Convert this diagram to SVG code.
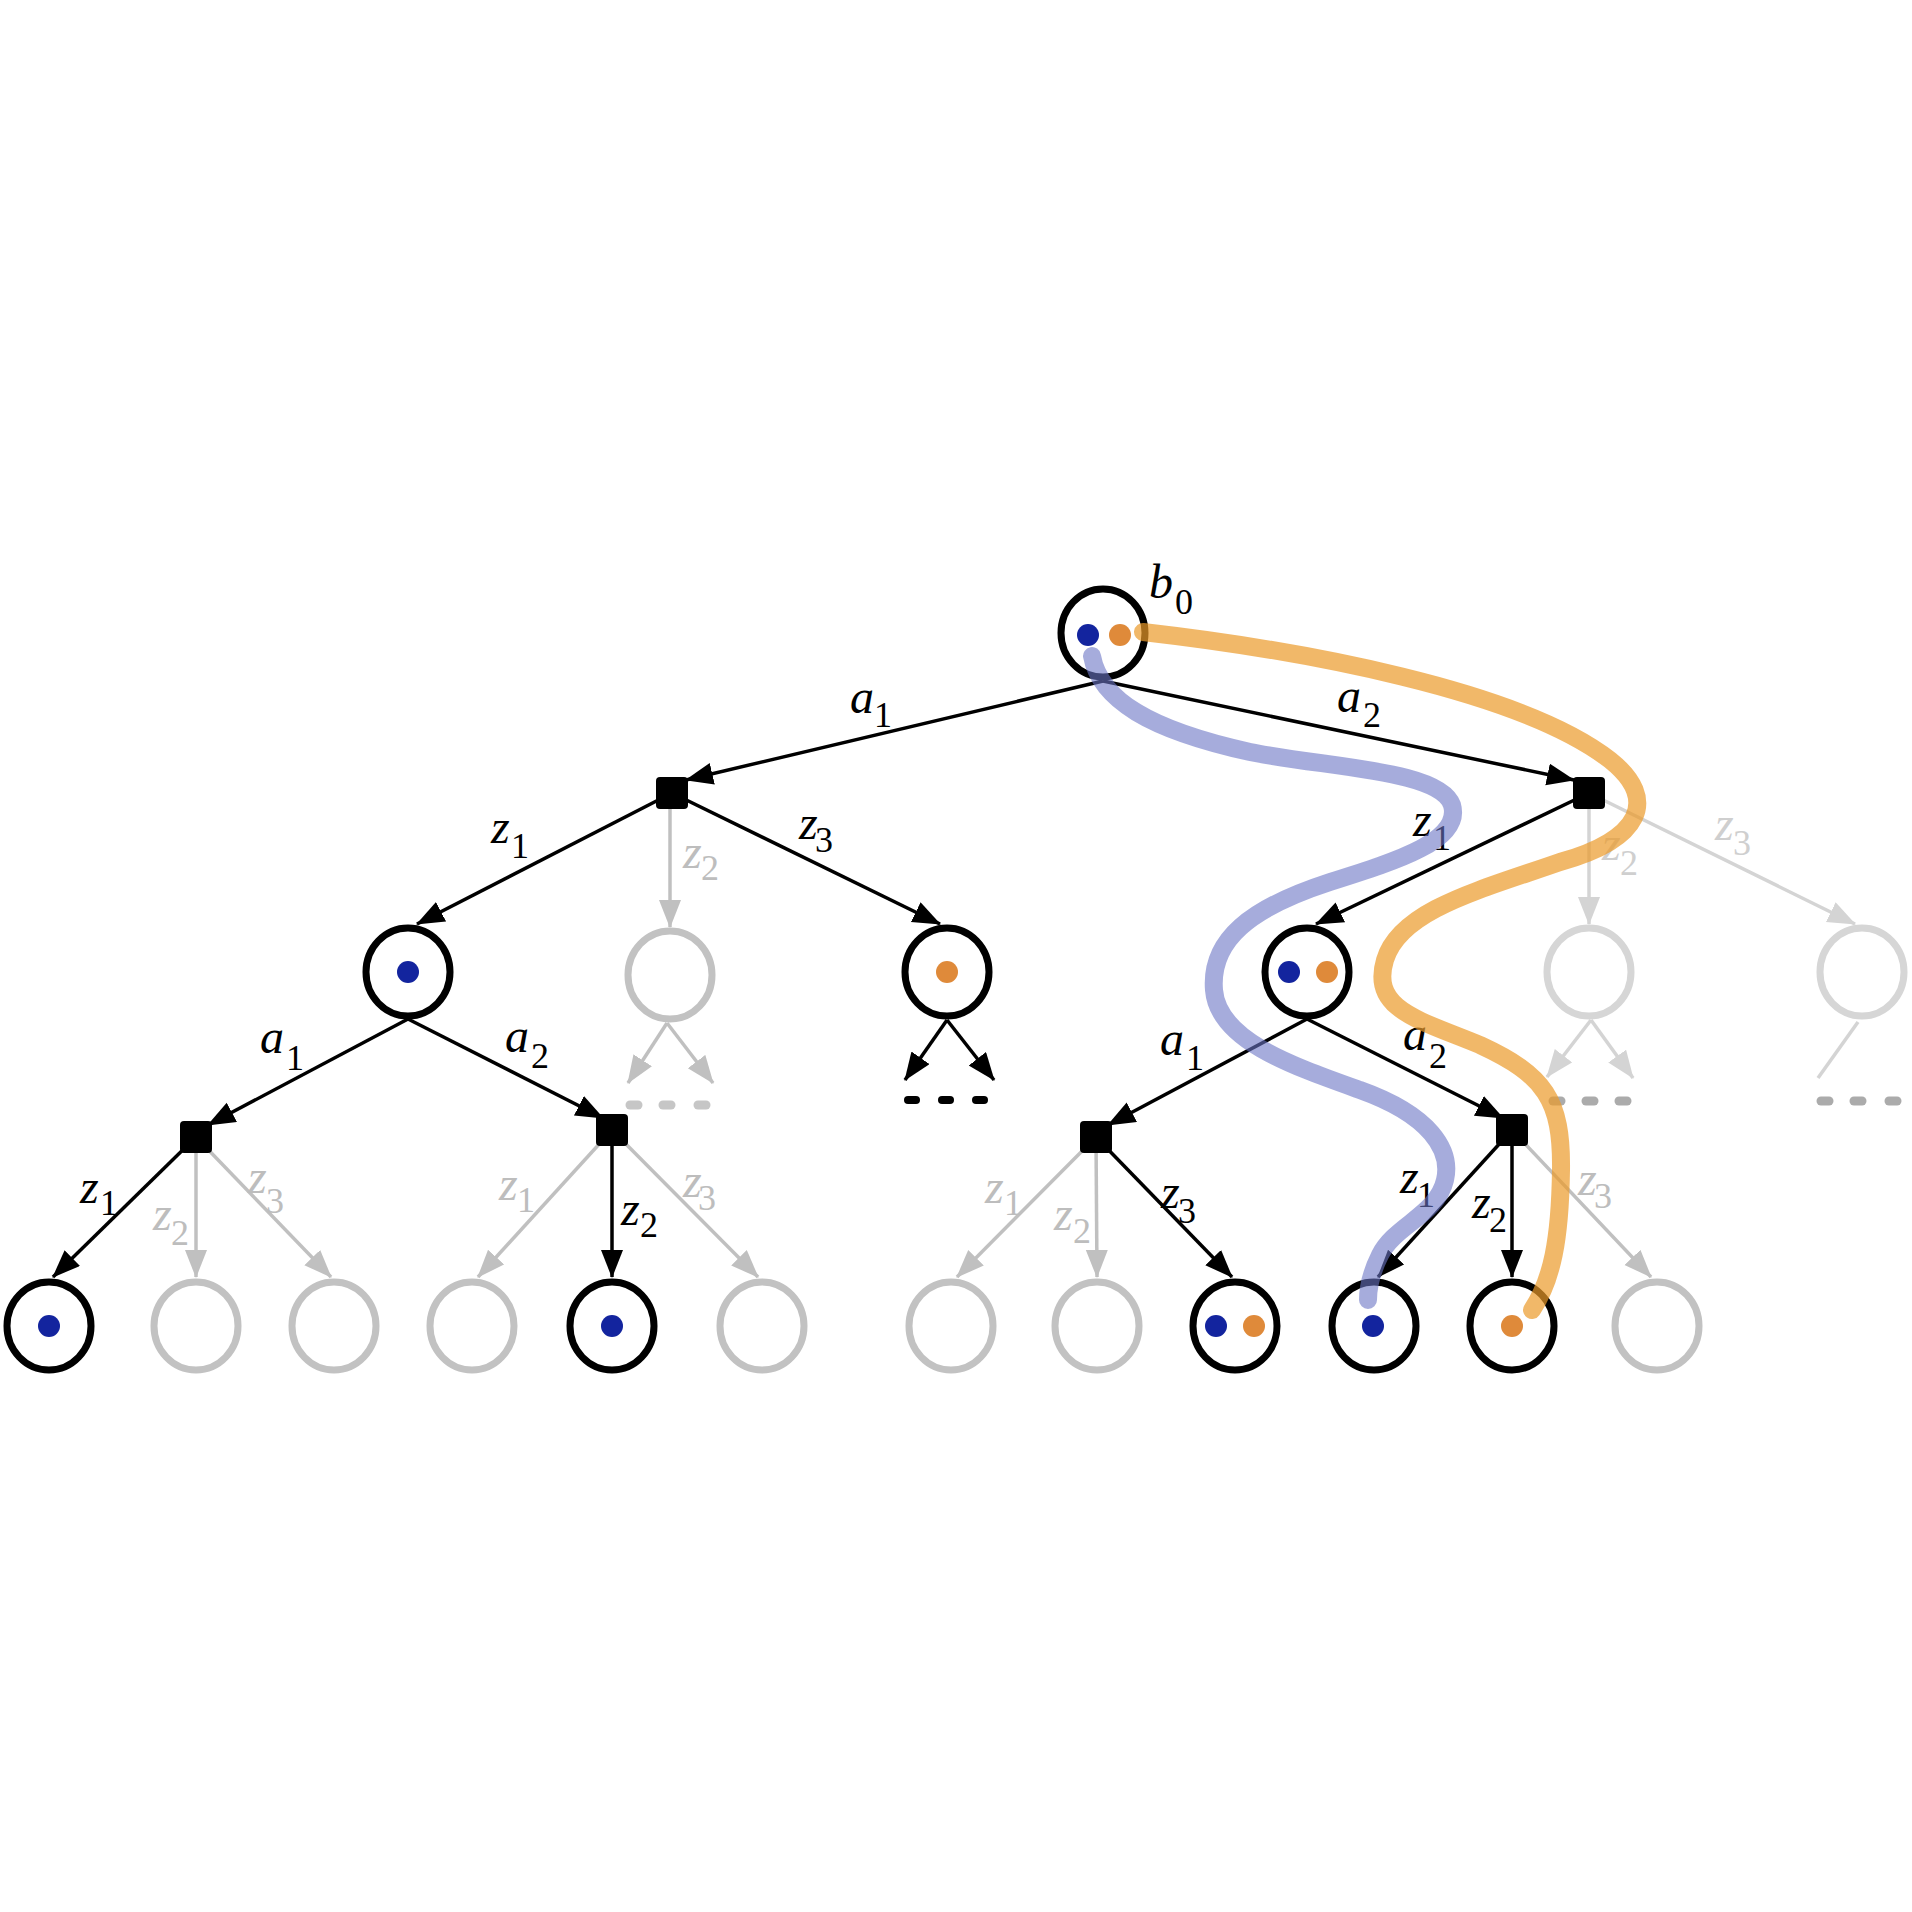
<svg xmlns="http://www.w3.org/2000/svg" width="1912" height="1912" viewBox="0 0 1912 1912">
<defs>
<style>
.e line{stroke-width:3.5;fill:none}
.k{stroke:#000}
.g{stroke:#c0c0c0}
.l{stroke:#d4d4d4}
.nk{fill:#fff;stroke:#000;stroke-width:7}
.ng{fill:#fff;stroke:#c2c2c2;stroke-width:7}
.nl{fill:#fff;stroke:#d6d6d6;stroke-width:7}
.sq{fill:#000}
.lab{font-family:"Liberation Serif","Times New Roman",serif;font-style:italic;font-size:48px;fill:#000}
.lab.gt{fill:#bdbdbd}
.lab.lt{fill:#cfcfcf}
.sub{font-style:normal;font-size:36px}
.bl{fill:#13249e}
.or{fill:#df8a3a}
.dk{stroke:#000;stroke-width:8;stroke-linecap:round}
.dg{stroke:#c6c6c6;stroke-width:9;stroke-linecap:round}
.dl{stroke:#ababab;stroke-width:9;stroke-linecap:round}
.hl{fill:none;stroke-width:18;stroke-linecap:round;stroke-linejoin:round}
</style>
<marker id="ak" markerUnits="userSpaceOnUse" markerWidth="30" markerHeight="24" refX="27" refY="11" orient="auto"><path d="M0,0 L28,11 L0,22 Z" fill="#000"/></marker>
<marker id="ag" markerUnits="userSpaceOnUse" markerWidth="30" markerHeight="24" refX="27" refY="11" orient="auto"><path d="M0,0 L28,11 L0,22 Z" fill="#c0c0c0"/></marker>
<marker id="al" markerUnits="userSpaceOnUse" markerWidth="30" markerHeight="24" refX="27" refY="11" orient="auto"><path d="M0,0 L28,11 L0,22 Z" fill="#d4d4d4"/></marker>
</defs>
<rect width="1912" height="1912" fill="#fff"/>

<g id="connectors" class="e">
<line class="k" x1="1103" y1="681" x2="686" y2="780" marker-end="url(#ak)"/>
<line class="k" x1="1103" y1="681" x2="1574" y2="780" marker-end="url(#ak)"/>
<line class="k" x1="672" y1="793" x2="417" y2="924" marker-end="url(#ak)"/>
<line class="g" x1="670" y1="793" x2="670" y2="927" marker-end="url(#ag)"/>
<line class="k" x1="672" y1="793" x2="940" y2="924" marker-end="url(#ak)"/>
<line class="k" x1="1589" y1="793" x2="1316" y2="924" marker-end="url(#ak)"/>
<line class="l" x1="1589" y1="793" x2="1589" y2="924" marker-end="url(#al)"/>
<line class="l" x1="1589" y1="793" x2="1855" y2="924" marker-end="url(#al)"/>
<line class="k" x1="408" y1="1019" x2="208" y2="1125" marker-end="url(#ak)"/>
<line class="k" x1="408" y1="1019" x2="603" y2="1118" marker-end="url(#ak)"/>
<line class="k" x1="1307" y1="1019" x2="1108" y2="1125" marker-end="url(#ak)"/>
<line class="k" x1="1307" y1="1019" x2="1503" y2="1118" marker-end="url(#ak)"/>
<line class="g" x1="667" y1="1023" x2="628" y2="1083" marker-end="url(#ag)"/>
<line class="g" x1="667" y1="1023" x2="713" y2="1083" marker-end="url(#ag)"/>
<line class="k" x1="947" y1="1020" x2="905" y2="1080" marker-end="url(#ak)"/>
<line class="k" x1="947" y1="1020" x2="994" y2="1080" marker-end="url(#ak)"/>
<line class="l" x1="1591" y1="1020" x2="1547" y2="1077" marker-end="url(#al)"/>
<line class="l" x1="1591" y1="1020" x2="1633" y2="1078" marker-end="url(#al)"/>
<line class="l" x1="1858" y1="1022" x2="1818" y2="1078"/>
<line class="k" x1="196" y1="1137" x2="53" y2="1277" marker-end="url(#ak)"/>
<line class="g" x1="196" y1="1137" x2="196" y2="1277" marker-end="url(#ag)"/>
<line class="g" x1="196" y1="1137" x2="331" y2="1277" marker-end="url(#ag)"/>
<line class="g" x1="612" y1="1130" x2="478" y2="1277" marker-end="url(#ag)"/>
<line class="k" x1="612" y1="1130" x2="612" y2="1277" marker-end="url(#ak)"/>
<line class="g" x1="612" y1="1130" x2="758" y2="1277" marker-end="url(#ag)"/>
<line class="g" x1="1096" y1="1137" x2="957" y2="1277" marker-end="url(#ag)"/>
<line class="g" x1="1096" y1="1137" x2="1097" y2="1277" marker-end="url(#ag)"/>
<line class="k" x1="1096" y1="1137" x2="1232" y2="1277" marker-end="url(#ak)"/>
<line class="k" x1="1512" y1="1130" x2="1378" y2="1277" marker-end="url(#ak)"/>
<line class="k" x1="1512" y1="1130" x2="1512" y2="1277" marker-end="url(#ak)"/>
<line class="g" x1="1512" y1="1130" x2="1651" y2="1277" marker-end="url(#ag)"/>
</g>

<g id="ellipses">
<line class="dg" x1="630" y1="1105" x2="638" y2="1105"/>
<line class="dg" x1="663" y1="1105" x2="671" y2="1105"/>
<line class="dg" x1="698" y1="1105" x2="706" y2="1105"/>
<line class="dk" x1="908" y1="1100" x2="916" y2="1100"/>
<line class="dk" x1="942" y1="1100" x2="950" y2="1100"/>
<line class="dk" x1="976" y1="1100" x2="984" y2="1100"/>
<line class="dl" x1="1553" y1="1101" x2="1561" y2="1101"/>
<line class="dl" x1="1586" y1="1101" x2="1594" y2="1101"/>
<line class="dl" x1="1619" y1="1101" x2="1627" y2="1101"/>
<line class="dl" x1="1821" y1="1101" x2="1829" y2="1101"/>
<line class="dl" x1="1854" y1="1101" x2="1862" y2="1101"/>
<line class="dl" x1="1889" y1="1101" x2="1897" y2="1101"/>
</g>

<g id="labels">
<text class="lab" x="1149" y="598">b<tspan class="sub" x="1175" y="614" font-size="42">0</tspan></text>
<text class="lab" x="850" y="713">a<tspan class="sub" x="874" y="727">1</tspan></text>
<text class="lab" x="1337" y="712">a<tspan class="sub" x="1363" y="727">2</tspan></text>
<text class="lab" x="491" y="843">z<tspan class="sub" x="511" y="858">1</tspan></text>
<text class="lab gt" x="683" y="868">z<tspan class="sub" x="701" y="880">2</tspan></text>
<text class="lab" x="799" y="839">z<tspan class="sub" x="815" y="852">3</tspan></text>
<text class="lab" x="1413" y="836">z<tspan class="sub" x="1433" y="850">1</tspan></text>
<text class="lab lt" x="1602" y="860">z<tspan class="sub" x="1620" y="875">2</tspan></text>
<text class="lab lt" x="1715" y="840">z<tspan class="sub" x="1733" y="855">3</tspan></text>
<text class="lab" x="260" y="1053">a<tspan class="sub" x="286" y="1070">1</tspan></text>
<text class="lab" x="505" y="1052">a<tspan class="sub" x="531" y="1068">2</tspan></text>
<text class="lab" x="1160" y="1055">a<tspan class="sub" x="1186" y="1070">1</tspan></text>
<text class="lab" x="1403" y="1050">a<tspan class="sub" x="1429" y="1068">2</tspan></text>
<text class="lab" x="80" y="1203">z<tspan class="sub" x="100" y="1215">1</tspan></text>
<text class="lab gt" x="153" y="1230">z<tspan class="sub" x="171" y="1245">2</tspan></text>
<text class="lab gt" x="248" y="1193">z<tspan class="sub" x="266" y="1213">3</tspan></text>
<text class="lab gt" x="499" y="1200">z<tspan class="sub" x="517" y="1212">1</tspan></text>
<text class="lab" x="621" y="1225">z<tspan class="sub" x="640" y="1237">2</tspan></text>
<text class="lab gt" x="683" y="1197">z<tspan class="sub" x="698" y="1210">3</tspan></text>
<text class="lab gt" x="985" y="1203">z<tspan class="sub" x="1004" y="1215">1</tspan></text>
<text class="lab gt" x="1054" y="1230">z<tspan class="sub" x="1073" y="1243">2</tspan></text>
<text class="lab" x="1161" y="1208">z<tspan class="sub" x="1178" y="1223">3</tspan></text>
<text class="lab" x="1400" y="1193">z<tspan class="sub" x="1417" y="1207">1</tspan></text>
<text class="lab" x="1472" y="1218">z<tspan class="sub" x="1489" y="1232">2</tspan></text>
<text class="lab gt" x="1578" y="1195">z<tspan class="sub" x="1594" y="1208">3</tspan></text>
</g>

<g id="b0"><ellipse class="nk" cx="1103" cy="633" rx="42" ry="44"/><circle class="bl" cx="1088" cy="635" r="11"/><circle class="or" cx="1120" cy="635" r="11"/></g>
<g id="act-a1"><rect class="sq" x="656" y="777" width="32" height="32" rx="4"/></g>
<g id="act-a2"><rect class="sq" x="1573" y="777" width="32" height="32" rx="4"/></g>

<g id="b-a1z1"><ellipse class="nk" cx="408" cy="972" rx="42" ry="44"/><circle class="bl" cx="408" cy="972" r="11"/></g>
<g id="b-a1z2"><ellipse class="ng" cx="670" cy="975" rx="42" ry="44"/></g>
<g id="b-a1z3"><ellipse class="nk" cx="947" cy="972" rx="42" ry="44"/><circle class="or" cx="947" cy="972" r="11"/></g>
<g id="b-a2z1"><ellipse class="nk" cx="1307" cy="972" rx="42" ry="44"/><circle class="bl" cx="1289" cy="972" r="11"/><circle class="or" cx="1327" cy="972" r="11"/></g>
<g id="b-a2z2"><ellipse class="nl" cx="1589" cy="972" rx="42" ry="44"/></g>
<g id="b-a2z3"><ellipse class="nl" cx="1862" cy="972" rx="42" ry="44"/></g>

<g id="act-a1z1a1"><rect class="sq" x="180" y="1121" width="32" height="32" rx="4"/></g>
<g id="act-a1z1a2"><rect class="sq" x="596" y="1114" width="32" height="32" rx="4"/></g>
<g id="act-a2z1a1"><rect class="sq" x="1080" y="1121" width="32" height="32" rx="4"/></g>
<g id="act-a2z1a2"><rect class="sq" x="1496" y="1114" width="32" height="32" rx="4"/></g>

<g id="leaf1"><ellipse class="nk" cx="49" cy="1326" rx="42" ry="44"/><circle class="bl" cx="49" cy="1326" r="11"/></g>
<g id="leaf2"><ellipse class="ng" cx="196" cy="1326" rx="42" ry="44"/></g>
<g id="leaf3"><ellipse class="ng" cx="334" cy="1326" rx="42" ry="44"/></g>
<g id="leaf4"><ellipse class="ng" cx="472" cy="1326" rx="42" ry="44"/></g>
<g id="leaf5"><ellipse class="nk" cx="612" cy="1326" rx="42" ry="44"/><circle class="bl" cx="612" cy="1326" r="11"/></g>
<g id="leaf6"><ellipse class="ng" cx="762" cy="1326" rx="42" ry="44"/></g>
<g id="leaf7"><ellipse class="ng" cx="951" cy="1326" rx="42" ry="44"/></g>
<g id="leaf8"><ellipse class="ng" cx="1097" cy="1326" rx="42" ry="44"/></g>
<g id="leaf9"><ellipse class="nk" cx="1235" cy="1326" rx="42" ry="44"/><circle class="bl" cx="1216" cy="1326" r="11"/><circle class="or" cx="1254" cy="1326" r="11"/></g>
<g id="leaf10"><ellipse class="nk" cx="1374" cy="1326" rx="42" ry="44"/><circle class="bl" cx="1373" cy="1326" r="11"/></g>
<g id="leaf11"><ellipse class="nk" cx="1512" cy="1326" rx="42" ry="44"/><circle class="or" cx="1512" cy="1326" r="11"/></g>
<g id="leaf12"><ellipse class="ng" cx="1657" cy="1326" rx="42" ry="44"/></g>

<g id="trajectories">
<path class="hl" stroke="#6b74c4" stroke-opacity="0.6" d="M1092,656 C1100,700 1150,730 1250,752 C1330,768 1440,770 1452,805 C1462,840 1400,860 1330,882 C1250,908 1210,940 1214,990 C1218,1040 1290,1065 1360,1090 C1430,1115 1452,1150 1445,1180 C1437,1215 1395,1225 1380,1255 C1370,1275 1368,1290 1368,1300"/>
<path class="hl" stroke="#eb9a2a" stroke-opacity="0.7" d="M1143,632 C1300,650 1520,690 1610,760 C1660,800 1640,840 1560,862 C1480,890 1400,910 1385,960 C1370,1010 1420,1020 1480,1045 C1545,1075 1562,1100 1561,1170 C1560,1240 1552,1280 1532,1310"/>
</g>
</svg>
